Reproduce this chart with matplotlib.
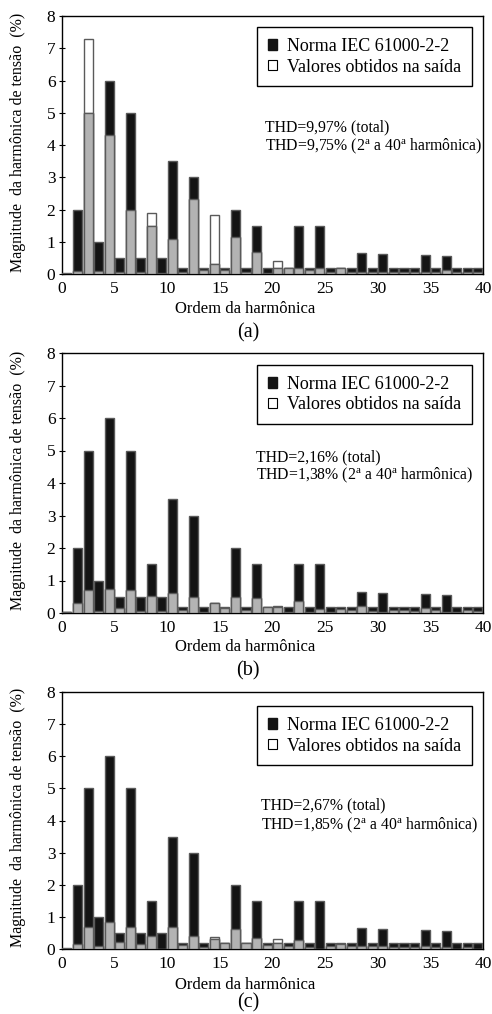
import matplotlib
matplotlib.use("Agg")
import matplotlib.pyplot as plt
from matplotlib.patches import Patch
import numpy as np

plt.rcParams['font.family'] = ['Liberation Serif', 'DejaVu Serif']
plt.rcParams['mathtext.fontset'] = 'custom'
plt.rcParams['mathtext.rm'] = 'Liberation Serif'
plt.rcParams['mathtext.it'] = 'Liberation Serif:italic'

harmonics = list(range(1, 41))
norma_iec = [0.03, 2, 5, 1, 6, 0.5, 5, 0.5, 1.5, 0.5, 3.5, 0.2, 3, 0.2, 0.3, 0.2, 2, 0.2, 1.5, 0.2,
             0.2, 0.2, 1.5, 0.2, 1.5, 0.2, 0.2, 0.2, 0.65, 0.2, 0.63, 0.2, 0.2, 0.2, 0.58, 0.2, 0.55, 0.2, 0.2, 0.2]
medido_a = [0, 0.08, 7.3, 0.08, 4.3, 0.07, 2.0, 0.05, 1.88, 0.04, 1.08, 0.07, 2.33, 0.13, 1.82, 0.13, 1.14, 0.07, 0.68, 0.03,
            0.40, 0.2, 0.2, 0.13, 0.2, 0.07, 0.2, 0.07, 0.07, 0.06, 0.07, 0.07, 0.06, 0.06, 0.07, 0.06, 0.13, 0.07, 0.06, 0.06]
medido_b = [0.02, 0.31, 0.72, 0.06, 0.75, 0.16, 0.72, 0.06, 0.51, 0.06, 0.63, 0.09, 0.5, 0.03, 0.32, 0.14, 0.49, 0.09, 0.46, 0.17,
            0.23, 0.02, 0.36, 0.02, 0.12, 0.02, 0.12, 0.08, 0.23, 0.07, 0.04, 0.08, 0.08, 0.07, 0.14, 0.08, 0.02, 0.02, 0.08, 0.07]
medido_c = [0, 0.16, 0.7, 0.1, 0.84, 0.21, 0.67, 0.16, 0.41, 0.01, 0.67, 0.11, 0.39, 0.05, 0.37, 0.2, 0.63, 0.2, 0.34, 0.11,
            0.32, 0.1, 0.27, 0.05, 0.0, 0.1, 0.17, 0.1, 0.1, 0.1, 0.1, 0.05, 0.05, 0.05, 0.1, 0.05, 0.05, 0.0, 0.07, 0.0]
thd_total = ["THD=9,97% (total)", "THD=2,16% (total)", "THD=2,67% (total)"]
thd_parcial = ["THD=9,75% (2$^{\\mathrm{a}}$ a 40$^{\\mathrm{a}}$ harmônica)",
               "THD=1,38% (2$^{\\mathrm{a}}$ a 40$^{\\mathrm{a}}$ harmônica)",
               "THD=1,85% (2$^{\\mathrm{a}}$ a 40$^{\\mathrm{a}}$ harmônica)"]
panel_labels = ["(a)", "(b)", "(c)"]
legend_labels = ["Norma IEC 61000-2-2", "Valores obtidos na saída"]
xlabel = "Ordem da harmônica"
ylabel = "Magnitude  da harmônica de tensão  (%)"

W, H = 492, 1014
fig = plt.figure(figsize=(W / 100, H / 100), dpi=100)

def fx(px):
    return px / W

def fy(py):
    return 1 - py / H

axes_px = [(16, 274), (353, 613), (692, 949)]
left_px, right_px = 61.7, 483
xlabel_px = [309, 647, 985]
plabel_px = [333, 671, 1003]
thd_pos = [(0.482, 0.570, 0.496), (0.461, 0.597, 0.528), (0.473, 0.560, 0.480)]
leg_top = [0.957, 0.954, 0.945]

black = '#141414'
gray = '#b3b3b3'
edge = '#5a5a5a'

x = np.array(harmonics) - 0.5
width = 0.86
for i, meas in enumerate([medido_a, medido_b, medido_c]):
    top, bot = axes_px[i]
    ax = fig.add_axes([fx(left_px), fy(bot), fx(right_px - left_px), (bot - top) / H])
    meas = np.array(meas)
    norm = np.array(norma_iec)
    ax.bar(x, meas, width=width, color='white', edgecolor=edge, linewidth=1.0, zorder=2)
    ax.bar(x, norm, width=width, color=black, edgecolor=edge, linewidth=1.0, zorder=3)
    ax.bar(x, np.minimum(norm, meas), width=width, color=gray, edgecolor=edge, linewidth=1.0, zorder=4)
    ax.set_xlim(0, 40)
    ax.set_ylim(0, 8)
    ax.set_xticks(range(0, 41, 5))
    ax.set_yticks(range(0, 9))
    ax.tick_params(axis='x', length=0, labelsize=12.5, pad=5)
    ax.tick_params(axis='y', direction='inout', length=5, labelsize=12.5, pad=2)
    for s in ax.spines.values():
        s.set_linewidth(1.0)
        s.set_color('black')
    handles = [Patch(facecolor=black, edgecolor=black), Patch(facecolor='white', edgecolor='black', linewidth=0.8)]
    leg = ax.legend(handles, legend_labels, loc='upper left', bbox_to_anchor=(0.463, leg_top[i]),
                    fontsize=13, frameon=True, fancybox=False, edgecolor='black', framealpha=1,
                    handlelength=0.5, handleheight=0.5, handletextpad=0.6, borderpad=0.6,
                    labelspacing=0.2, borderaxespad=0)
    leg.get_frame().set_linewidth(1.0)
    tx, ty1, ty2 = thd_pos[i]
    ax.text(tx, ty1, thd_total[i], transform=ax.transAxes, fontsize=11.3, va='center', ha='left')
    ax.text(tx, ty2, thd_parcial[i], transform=ax.transAxes, fontsize=11.3, va='center', ha='left')
    fig.text(fx(245), fy(xlabel_px[i]), xlabel, fontsize=12, ha='center', va='center')
    fig.text(fx(248), fy(plabel_px[i]), panel_labels[i], fontsize=14.5, ha='center', va='center')
    fig.text(fx(18), fy((top + bot) / 2 - 3), ylabel, fontsize=11.5, rotation=90, ha='center', va='center')

fig.savefig('out.png', dpi=100)
